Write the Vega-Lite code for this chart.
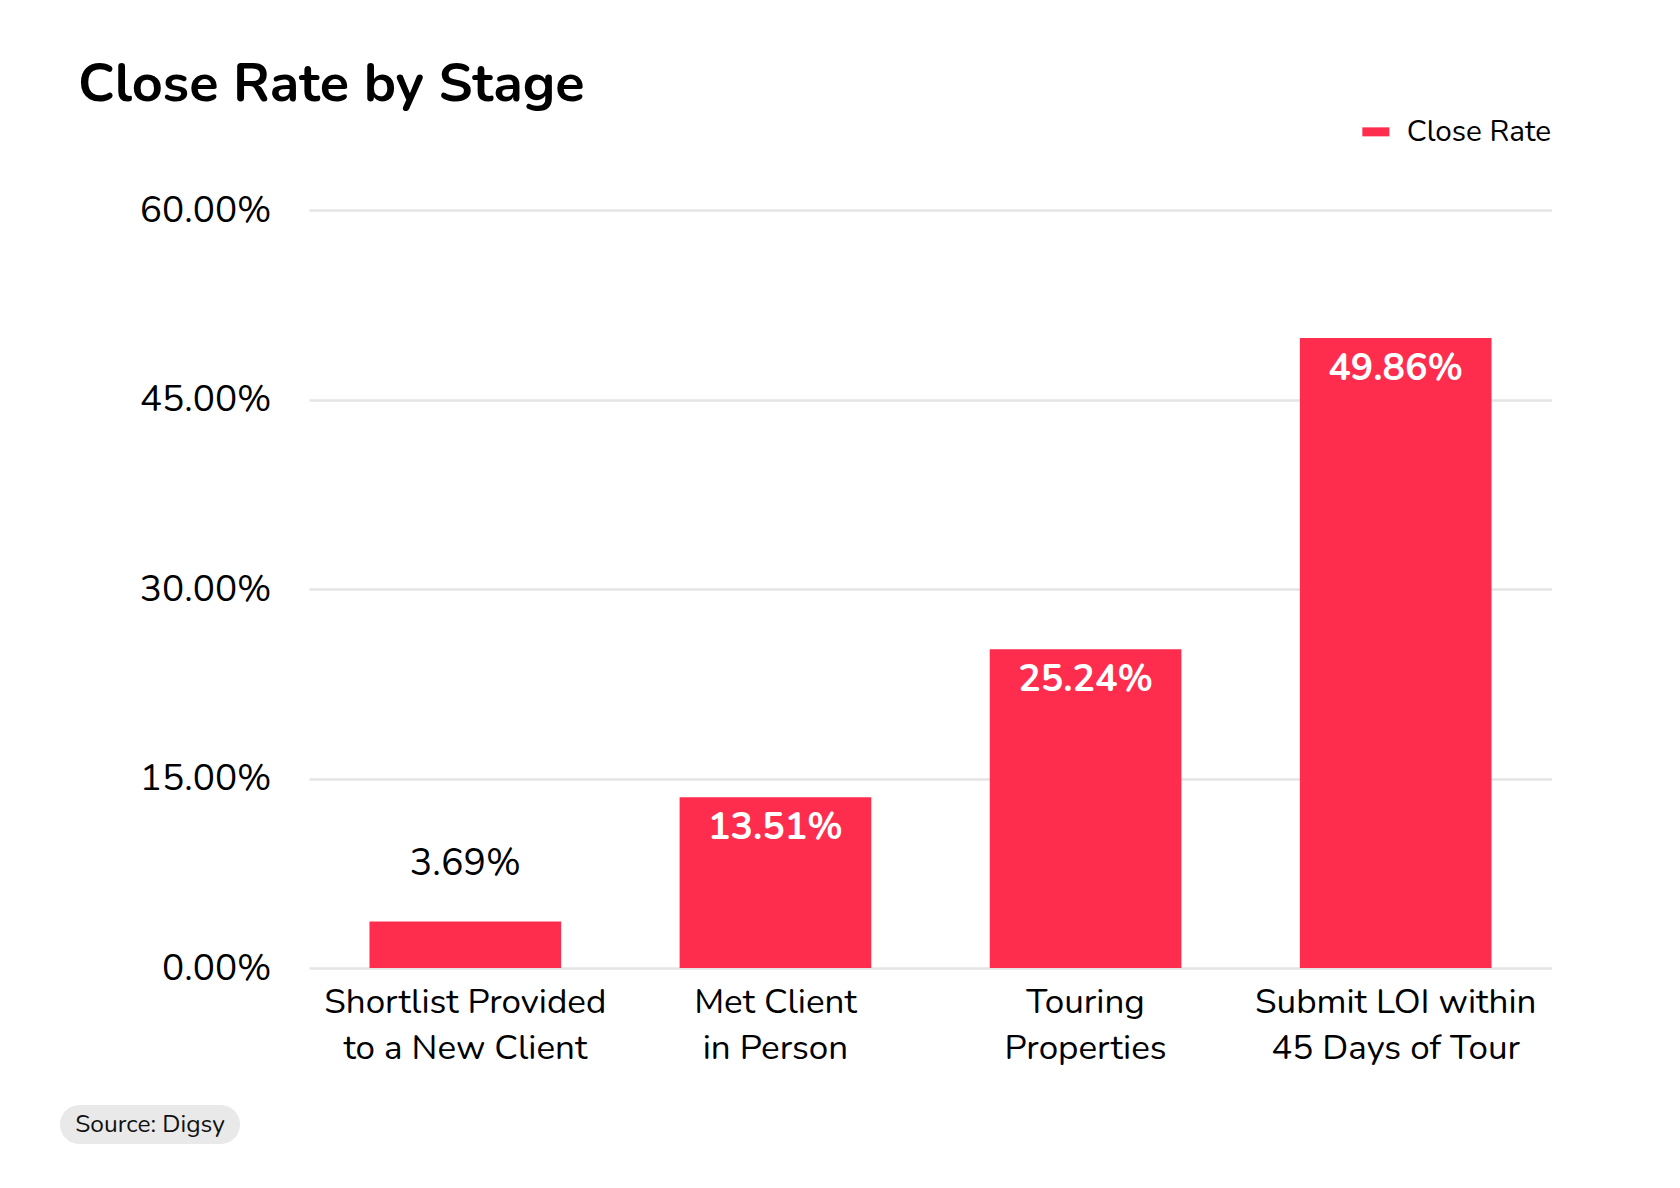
{
  "$schema": "https://vega.github.io/schema/vega-lite/v6.json",
  "background": "white",
  "padding": {"left": 60, "top": 58, "right": 0, "bottom": 0},
  "spacing": 40,
  "title": {
    "text": "Close Rate by Stage",
    "anchor": "start",
    "frame": "bounds",
    "dx": 18,
    "fontSize": 54,
    "fontWeight": "bold",
    "color": "#000000",
    "offset": 5
  },
  "config": {
    "font": "Nunito, Open Sans, sans-serif",
    "view": {"stroke": null}
  },
  "vconcat": [
    {
      "width": 1243,
      "height": 758,
      "data": {
        "values": [
          {"stage": "Shortlist Provided|to a New Client", "rate": 0.0369},
          {"stage": "Met Client|in Person", "rate": 0.1351},
          {"stage": "Touring|Properties", "rate": 0.2524},
          {"stage": "Submit LOI within|45 Days of Tour", "rate": 0.4986}
        ]
      },
      "encoding": {
        "x": {
          "field": "stage",
          "type": "nominal",
          "sort": null,
          "scale": {"paddingInner": 0.382, "paddingOuter": 0.195, "align": 0.5},
          "axis": {
            "title": null,
            "domain": false,
            "ticks": false,
            "labelAngle": 0,
            "labelPadding": 16,
            "labelFontSize": 35,
            "labelLineHeight": 46,
            "labelLimit": 500,
            "labelColor": "#000000",
            "labelExpr": "split(datum.label, '|')"
          }
        },
        "y": {
          "field": "rate",
          "type": "quantitative",
          "scale": {"domain": [0, 0.6]},
          "axis": {
            "title": null,
            "values": [0, 0.15, 0.3, 0.45, 0.6],
            "format": ".2%",
            "domain": false,
            "ticks": false,
            "grid": true,
            "gridColor": "#e4e4e4",
            "gridWidth": 2.5,
            "labelPadding": 38,
            "labelFontSize": 37,
            "labelColor": "#000000",
            "minExtent": 249
          }
        }
      },
      "layer": [
        {
          "mark": {"type": "bar"},
          "encoding": {
            "color": {
              "datum": "Close Rate",
              "scale": {"range": ["#ff2d4d"]},
              "legend": {
                "title": null,
                "orient": "none",
                "legendX": 1052,
                "legendY": -93,
                "symbolType": "M-1,-0.333H1V0.333H-1Z",
                "symbolSize": 729,
                "symbolStrokeWidth": 0,
                "labelFontSize": 29.7,
                "labelOffset": 16,
                "labelColor": "#000000"
              }
            }
          }
        },
        {
          "transform": [{"filter": "datum.rate >= 0.1"}],
          "mark": {"type": "text", "color": "#ffffff", "fontWeight": "bold", "fontSize": 37.5, "baseline": "alphabetic", "dy": 42},
          "encoding": {"text": {"field": "rate", "type": "quantitative", "format": ".2%"}}
        },
        {
          "transform": [{"filter": "datum.rate < 0.1"}],
          "mark": {"type": "text", "color": "#000000", "fontSize": 37.5, "baseline": "alphabetic", "dy": -46},
          "encoding": {"text": {"field": "rate", "type": "quantitative", "format": ".2%"}}
        }
      ]
    },
    {
      "width": 180,
      "height": 39,
      "data": {"values": [{"source": "Source: Digsy"}]},
      "layer": [
        {
          "mark": {"type": "rect", "color": "#e9e9e9", "cornerRadius": 19.5, "xOffset": -249, "x2Offset": -249},
          "encoding": {
            "x": {"datum": 0, "type": "quantitative", "scale": {"domain": [0, 1]}, "axis": null},
            "x2": {"datum": 1}
          }
        },
        {"mark": {"type": "text", "fontSize": 24.5, "color": "#111111", "baseline": "middle", "xOffset": -249}, "encoding": {"text": {"field": "source"}}}
      ]
    }
  ]
}
